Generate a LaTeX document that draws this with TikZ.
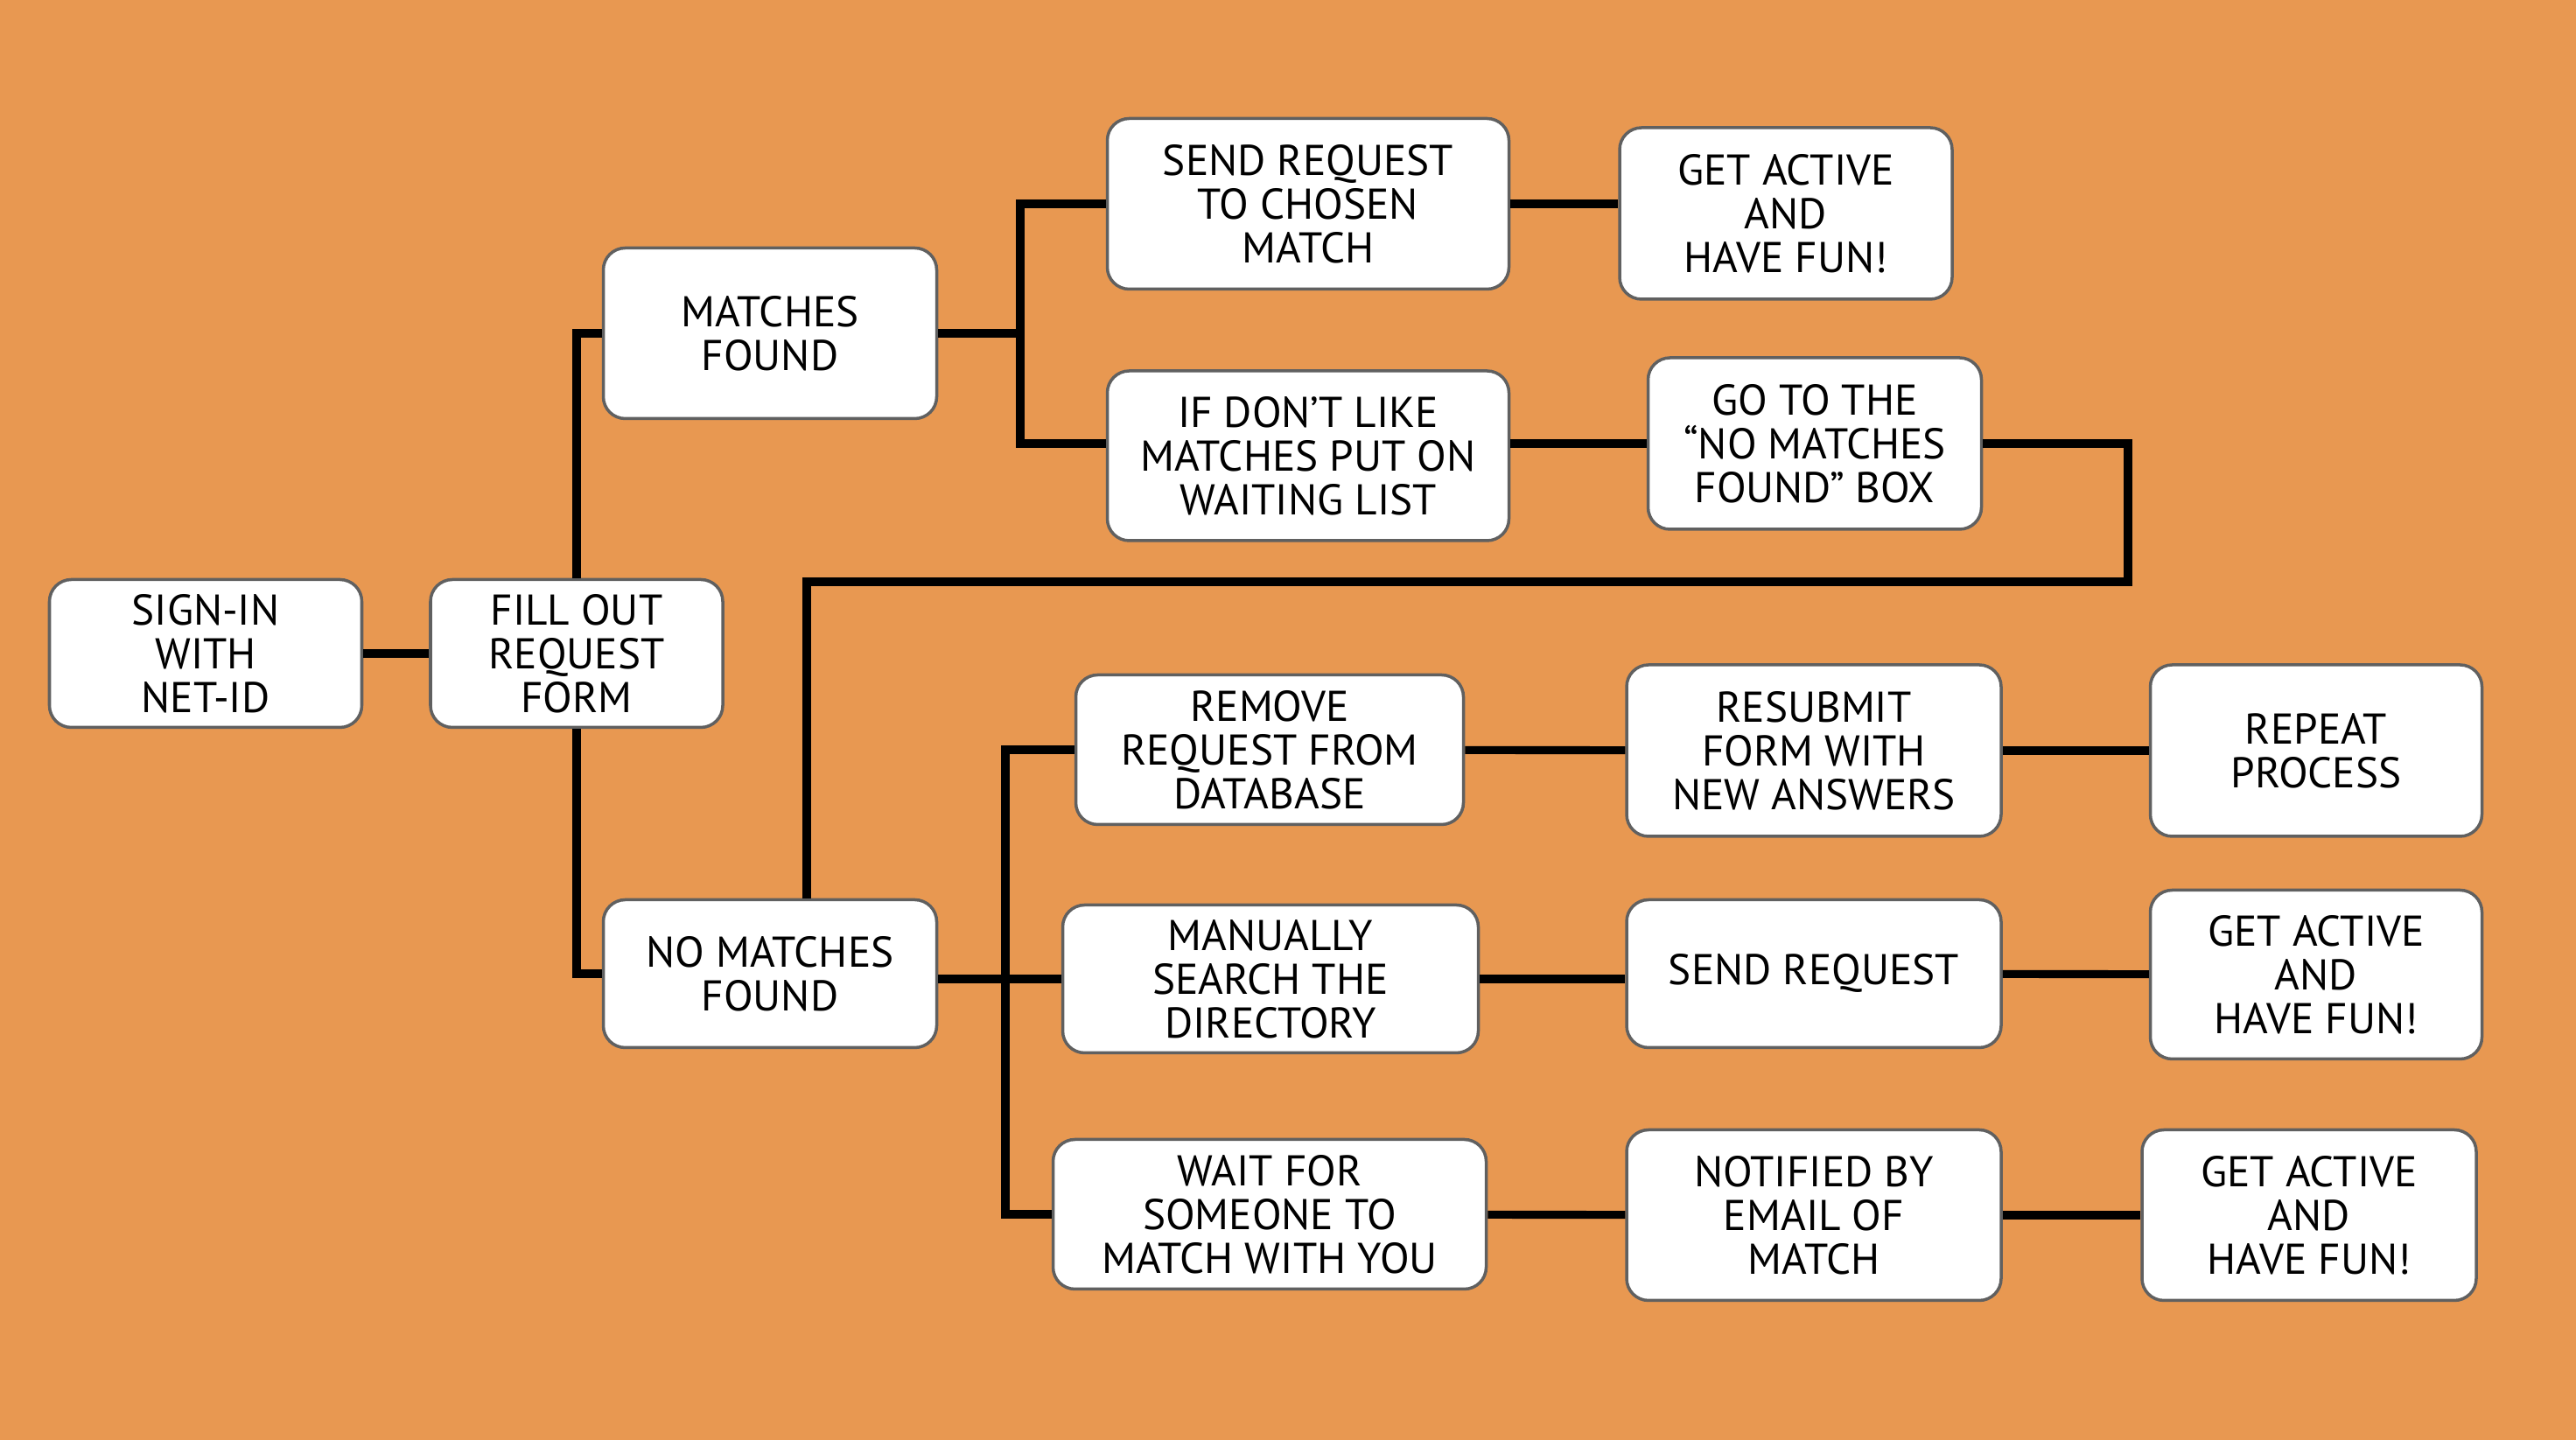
\documentclass[tikz,border=0pt]{standalone}
\usepackage{fontspec}
\setmainfont{PT Sans}
\definecolor{bgorange}{HTML}{E89851}
\definecolor{boxedge}{HTML}{606060}
\begin{document}
\begin{tikzpicture}[
    box/.style={draw=boxedge,line width=1pt,fill=white,rounded corners=0.25cm,align=center,inner sep=0pt,font=\fontsize{14}{14.2}\selectfont},
    link/.style={line width=2.6pt}]
    \fill[bgorange] (0,0) rectangle (29.44,16.46);
    \useasboundingbox (0,0) rectangle (29.44,16.46);
    % first two steps
    \node[box,minimum width=3.57cm,minimum height=1.69cm] (signin) at (2.35,8.99) {SIGN-IN\\WITH\\NET-ID};
    \node[box,minimum width=3.34cm,minimum height=1.69cm] (fill) at (6.59,8.99) {FILL OUT\\REQUEST\\FORM};
    \node[box,minimum width=3.81cm,minimum height=1.95cm] (matches) at (8.80,12.65) {MATCHES\\FOUND};
    \node[box,minimum width=3.81cm,minimum height=1.69cm] (nomatch) at (8.80,5.33) {NO MATCHES\\FOUND};
    % matches found branch
    \node[box,minimum width=4.59cm,minimum height=1.95cm] (sendchosen) at (14.95,14.13) {SEND REQUEST\\TO CHOSEN\\MATCH};
    \node[box,minimum width=4.59cm,minimum height=1.94cm] (dontlike) at (14.95,11.25) {IF DON’T LIKE\\MATCHES PUT ON\\WAITING LIST};
    \node[box,minimum width=3.80cm,minimum height=1.96cm] (funA) at (20.41,14.02) {GET ACTIVE\\AND\\HAVE FUN!};
    \node[box,minimum width=3.81cm,minimum height=1.96cm] (goto) at (20.74,11.39) {GO TO THE\\“NO MATCHES\\FOUND” BOX};
    % no matches branch
    \node[box,minimum width=4.43cm,minimum height=1.71cm] (remove) at (14.51,7.89) {REMOVE\\REQUEST FROM\\DATABASE};
    \node[box,minimum width=4.75cm,minimum height=1.69cm] (manual) at (14.52,5.27) {MANUALLY\\SEARCH THE\\DIRECTORY};
    \node[box,minimum width=4.95cm,minimum height=1.71cm] (wait) at (14.51,2.58) {WAIT FOR\\SOMEONE TO\\MATCH WITH YOU};
    \node[box,minimum width=4.28cm,minimum height=1.96cm] (resubmit) at (20.73,7.88) {RESUBMIT\\FORM WITH\\NEW ANSWERS};
    \node[box,minimum width=4.28cm,minimum height=1.69cm] (sendreq) at (20.73,5.33) {SEND REQUEST};
    \node[box,minimum width=4.28cm,minimum height=1.95cm] (notified) at (20.73,2.57) {NOTIFIED BY\\EMAIL OF\\MATCH};
    \node[box,minimum width=3.79cm,minimum height=1.96cm] (repeat) at (26.47,7.88) {REPEAT\\PROCESS};
    \node[box,minimum width=3.79cm,minimum height=1.93cm] (funB) at (26.47,5.32) {GET ACTIVE\\AND\\HAVE FUN!};
    \node[box,minimum width=3.82cm,minimum height=1.95cm] (funC) at (26.39,2.57) {GET ACTIVE\\AND\\HAVE FUN!};
    % junctions
    \coordinate (jA) at (11.66,12.65);
    \coordinate (jB) at (11.49,5.27);
    \coordinate (loopR) at (24.32,9.81);
    \coordinate (loopL) at (9.22,9.81);
    % connectors
    \draw[link] (signin) -- (fill);
    \draw[link] (fill.north) |- (matches.west);
    \draw[link] (fill.south) |- (nomatch.west);
    \draw[link] (matches.east) -- (jA);
    \draw[link] (sendchosen.west) -| (jA) |- (dontlike.west |- goto);
    \draw[link] (sendchosen.east) -- (sendchosen.east -| funA.west);
    \draw[link] (dontlike.east |- goto) -- (goto.west);
    \draw[link] (goto.east) -| (loopR) -- (loopL) -- (loopL |- nomatch.north);
    \draw[link] (nomatch.east |- manual.west) -- (manual.west);
    \draw[link] (remove.west) -| (jB) |- (wait.west);
    \draw[link] (remove) -- (resubmit);
    \draw[link] (resubmit) -- (repeat);
    \draw[link] (manual.east) -- (manual.east -| sendreq.west);
    \draw[link] (sendreq) -- (funB);
    \draw[link] (wait) -- (notified);
    \draw[link] (notified) -- (funC);
\end{tikzpicture}
\end{document}
